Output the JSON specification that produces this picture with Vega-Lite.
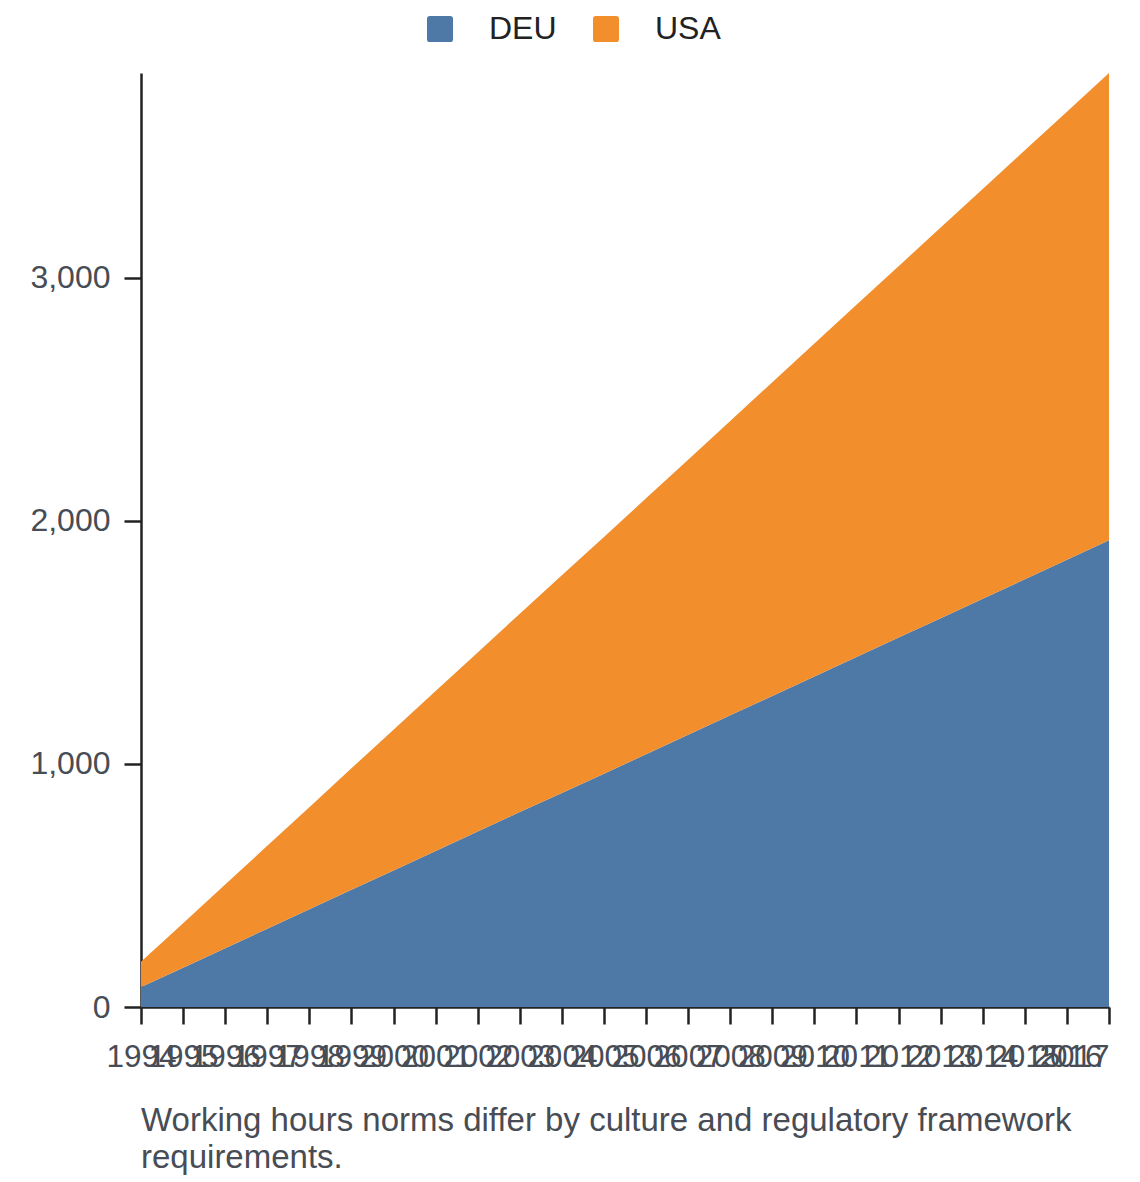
{
  "$schema": "https://vega.github.io/schema/vega-lite/v6.json",
  "width": 968,
  "height": 934,
  "autosize": {"type": "none"},
  "padding": {"left": 141, "top": 73, "right": 31, "bottom": 175},
  "background": "white",
  "title": {
    "text": ["Working hours norms differ by culture and regulatory framework", "requirements."],
    "orient": "bottom",
    "anchor": "start",
    "frame": "group",
    "font": "Liberation Sans",
    "fontSize": 33,
    "fontWeight": "normal",
    "color": "#474c55",
    "lineHeight": 37,
    "offset": 32
  },
  "data": {
    "values": [
      {"year": 1994, "country": "DEU", "hours": 82},
      {"year": 1995, "country": "DEU", "hours": 162},
      {"year": 1996, "country": "DEU", "hours": 242},
      {"year": 1997, "country": "DEU", "hours": 322},
      {"year": 1998, "country": "DEU", "hours": 402},
      {"year": 1999, "country": "DEU", "hours": 482},
      {"year": 2000, "country": "DEU", "hours": 562},
      {"year": 2001, "country": "DEU", "hours": 642},
      {"year": 2002, "country": "DEU", "hours": 722},
      {"year": 2003, "country": "DEU", "hours": 802},
      {"year": 2004, "country": "DEU", "hours": 881},
      {"year": 2005, "country": "DEU", "hours": 960},
      {"year": 2006, "country": "DEU", "hours": 1040},
      {"year": 2007, "country": "DEU", "hours": 1120},
      {"year": 2008, "country": "DEU", "hours": 1200},
      {"year": 2009, "country": "DEU", "hours": 1280},
      {"year": 2010, "country": "DEU", "hours": 1360},
      {"year": 2011, "country": "DEU", "hours": 1440},
      {"year": 2012, "country": "DEU", "hours": 1520},
      {"year": 2013, "country": "DEU", "hours": 1600},
      {"year": 2014, "country": "DEU", "hours": 1680},
      {"year": 2015, "country": "DEU", "hours": 1760},
      {"year": 2016, "country": "DEU", "hours": 1840},
      {"year": 2017, "country": "DEU", "hours": 1920},
      {"year": 1994, "country": "USA", "hours": 104},
      {"year": 1995, "country": "USA", "hours": 183},
      {"year": 1996, "country": "USA", "hours": 262},
      {"year": 1997, "country": "USA", "hours": 341},
      {"year": 1998, "country": "USA", "hours": 420},
      {"year": 1999, "country": "USA", "hours": 500},
      {"year": 2000, "country": "USA", "hours": 579},
      {"year": 2001, "country": "USA", "hours": 658},
      {"year": 2002, "country": "USA", "hours": 737},
      {"year": 2003, "country": "USA", "hours": 816},
      {"year": 2004, "country": "USA", "hours": 895},
      {"year": 2005, "country": "USA", "hours": 974},
      {"year": 2006, "country": "USA", "hours": 1053},
      {"year": 2007, "country": "USA", "hours": 1132},
      {"year": 2008, "country": "USA", "hours": 1211},
      {"year": 2009, "country": "USA", "hours": 1291},
      {"year": 2010, "country": "USA", "hours": 1370},
      {"year": 2011, "country": "USA", "hours": 1449},
      {"year": 2012, "country": "USA", "hours": 1528},
      {"year": 2013, "country": "USA", "hours": 1607},
      {"year": 2014, "country": "USA", "hours": 1686},
      {"year": 2015, "country": "USA", "hours": 1765},
      {"year": 2016, "country": "USA", "hours": 1844},
      {"year": 2017, "country": "USA", "hours": 1923}
    ]
  },
  "mark": {"type": "area", "opacity": 1},
  "encoding": {
    "x": {
      "field": "year",
      "type": "quantitative",
      "scale": {"domain": [1994, 2017], "nice": false, "zero": false},
      "axis": {
        "title": null,
        "values": [1994, 1995, 1996, 1997, 1998, 1999, 2000, 2001, 2002, 2003, 2004, 2005, 2006, 2007, 2008, 2009, 2010, 2011, 2012, 2013, 2014, 2015, 2016, 2017],
        "format": "d",
        "labelOverlap": false,
        "labelFlush": false,
        "labelBound": false,
        "labelAlign": {"condition": {"test": "datum.value === 2017", "value": "right"}, "value": "center"},
        "grid": false,
        "tickSize": 17,
        "tickWidth": 2.5,
        "tickColor": "#222222",
        "domainColor": "#222222",
        "domainWidth": 2.5,
        "labelFont": "Liberation Sans",
        "labelFontSize": 31.5,
        "labelColor": "#474c55",
        "labelPadding": 17
      }
    },
    "y": {
      "field": "hours",
      "type": "quantitative",
      "stack": "zero",
      "scale": {"nice": false, "zero": true},
      "axis": {
        "title": null,
        "values": [0, 1000, 2000, 3000],
        "format": ",.0f",
        "grid": false,
        "tickSize": 17,
        "tickWidth": 2.5,
        "tickColor": "#222222",
        "domainColor": "#222222",
        "domainWidth": 2.5,
        "labelFont": "Liberation Sans",
        "labelFontSize": 32,
        "labelColor": "#474c55",
        "labelPadding": 14
      }
    },
    "color": {
      "field": "country",
      "type": "nominal",
      "scale": {"domain": ["DEU", "USA"], "range": ["#4e79a7", "#f28e2b"]},
      "legend": {
        "title": null,
        "orient": "none",
        "direction": "horizontal",
        "legendX": 283,
        "legendY": -60,
        "padding": 0,
        "symbolType": "M -0.78 -1 L 0.78 -1 Q 1 -1 1 -0.78 L 1 0.78 Q 1 1 0.78 1 L -0.78 1 Q -1 1 -1 0.78 L -1 -0.78 Q -1 -1 -0.78 -1 Z",
        "symbolSize": 676,
        "symbolStrokeWidth": 0,
        "symbolOpacity": 1,
        "labelFont": "Liberation Sans",
        "labelFontSize": 32,
        "labelColor": "#222222",
        "labelOffset": 33,
        "columnPadding": 33
      }
    },
    "order": {"field": "country", "sort": "ascending"}
  },
  "config": {
    "view": {"stroke": null}
  }
}
